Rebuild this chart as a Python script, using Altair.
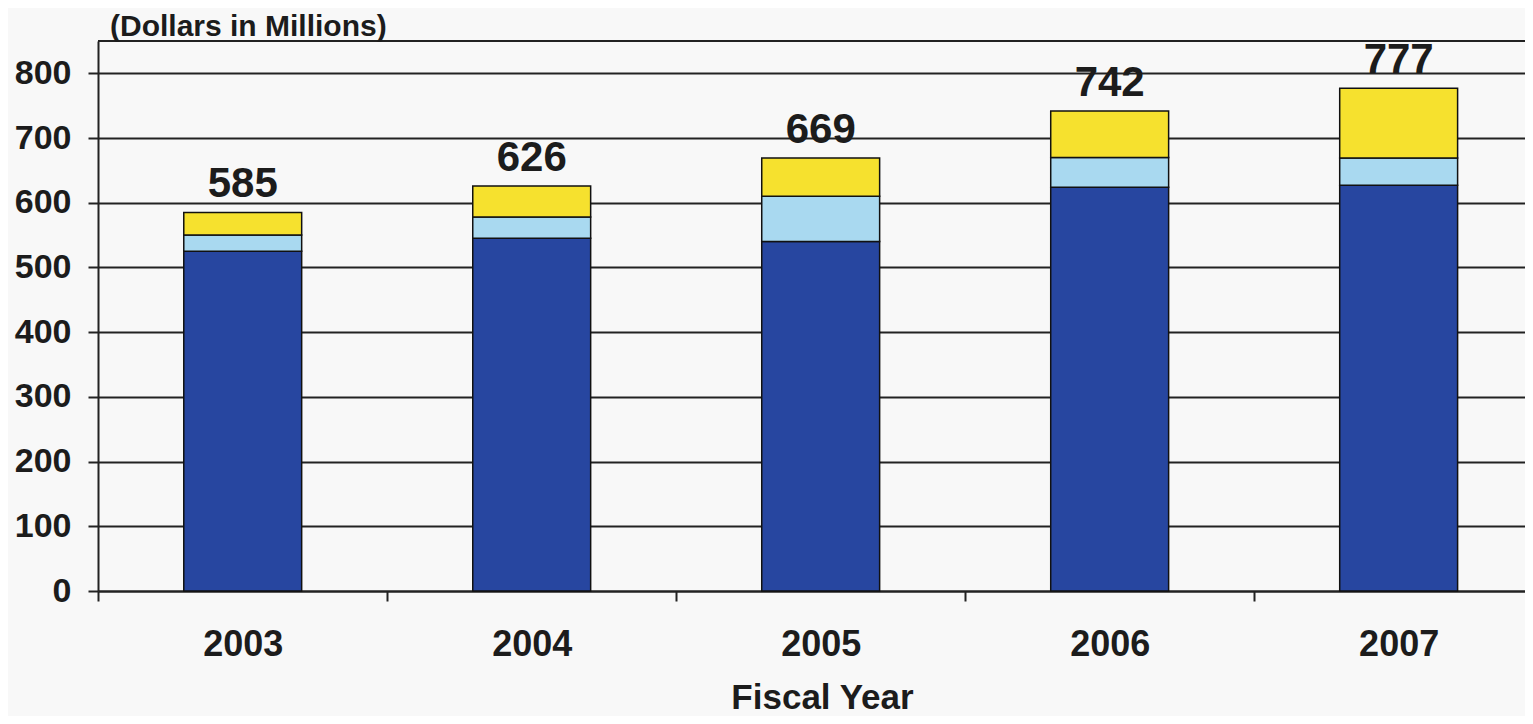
import altair as alt
import pandas as pd

years = ["2003", "2004", "2005", "2006", "2007"]
series_names = ["Base", "Middle", "Top"]
dark_values = [525, 545, 540, 624, 627]
light_values = [25, 33, 70, 46, 42]
yellow_values = [35, 48, 59, 72, 108]
totals = [585, 626, 669, 742, 777]
y_ticks = [0, 100, 200, 300, 400, 500, 600, 700, 800]
colors = ["#2746A0", "#A9D9F0", "#F6E12E"]

rows = []
for i, y in enumerate(years):
    for k, (name, vals) in enumerate(zip(series_names, [dark_values, light_values, yellow_values])):
        rows.append({"year": y, "series": name, "value": vals[i], "order": k})
df = pd.DataFrame(rows)
tot_df = pd.DataFrame({"year": years, "total": totals})
top_df = pd.DataFrame({"y": [850]})

FONT = "Liberation Sans"

xscale = alt.Scale(paddingInner=0.592, paddingOuter=0.265, align=0.56)
yscale = alt.Scale(domain=[0, 850], nice=False)

bars = alt.Chart(df).mark_bar(stroke="#111111", strokeWidth=1.5).encode(
    x=alt.X("year:N", sort=years, scale=xscale,
            axis=alt.Axis(title="Fiscal Year", labelAngle=0,
                          tickOffset=-144.5, labelOffset=144.5,
                          labelFontSize=36, labelFont=FONT, labelFontWeight="bold",
                          labelColor="#1c1c1c", labelPadding=26,
                          tickSize=10, tickWidth=2, tickColor="#222222",
                          domainColor="#222222", domainWidth=2,
                          titleFontSize=35, titleFont=FONT, titleFontWeight="bold",
                          titleColor="#1c1c1c", titleX=724, titleY=117,
                          titleBaseline="alphabetic", titleAlign="center")),
    y=alt.Y("value:Q", stack="zero", scale=yscale,
            axis=alt.Axis(title=None, values=y_ticks, grid=True, gridColor="#222222",
                          gridWidth=2, labelFontSize=34, labelFont=FONT,
                          labelFontWeight="bold", labelColor="#1c1c1c",
                          labelPadding=17, tickSize=10, tickWidth=2,
                          tickColor="#222222", domainColor="#222222", domainWidth=2)),
    color=alt.Color("series:N", scale=alt.Scale(domain=series_names, range=colors), legend=None),
    order=alt.Order("order:Q"),
)

labels = alt.Chart(tot_df).mark_text(
    dy=-15, baseline="alphabetic", fontSize=42, font=FONT, fontWeight="bold", color="#1c1c1c"
).encode(
    x=alt.X("year:N", sort=years),
    y=alt.Y("total:Q"),
    text=alt.Text("total:Q"),
)

top_rule = alt.Chart(top_df).mark_rule(color="#222222", strokeWidth=2).encode(y="y:Q")

chart = alt.layer(bars, top_rule, labels).properties(
    width=1427,
    height=550,
    title=alt.TitleParams("(Dollars in Millions)", anchor="start", frame="group", dx=12,
                          dy=34, fontSize=30, font=FONT, fontWeight="bold", color="#1c1c1c",
                          baseline="alphabetic", offset=7),
    autosize=alt.AutoSizeParams(type="none"),
    padding={"left": 90, "top": 33, "right": 0, "bottom": 125},
    background="#f8f8f8",
).configure_view(stroke=None)

chart.save("out.html", embed_options={"renderer": "svg", "actions": False})
